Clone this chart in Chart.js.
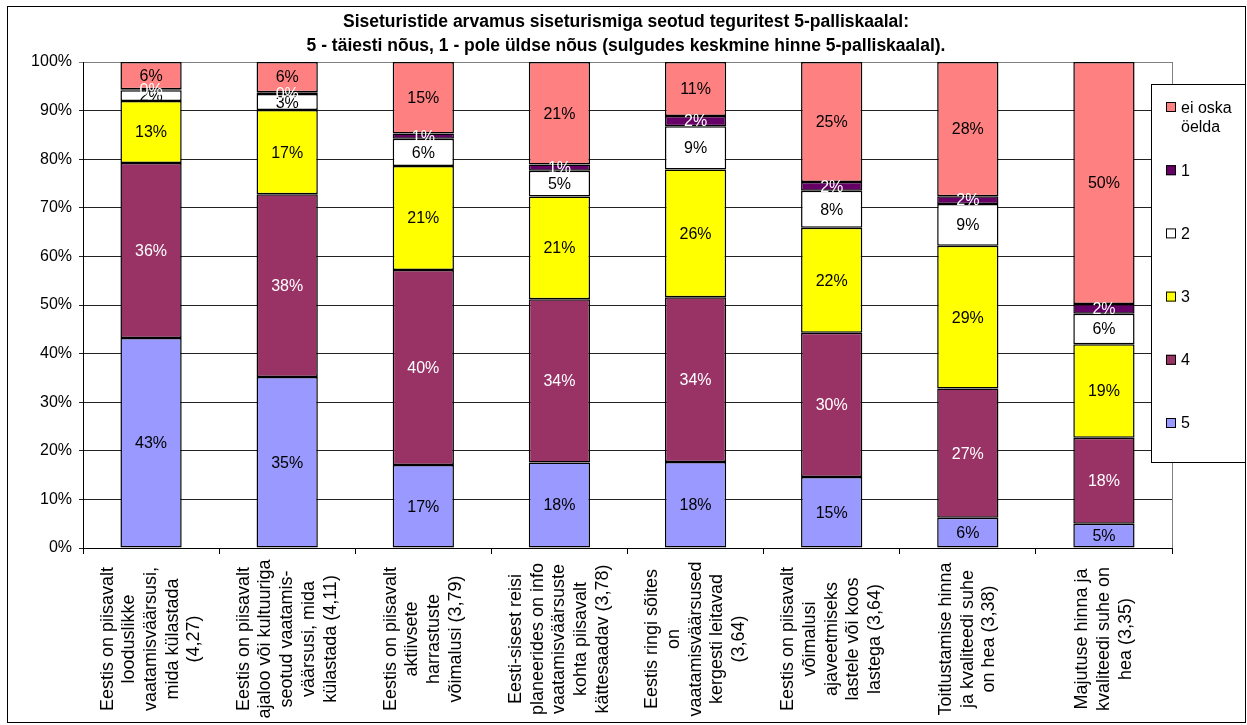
<!DOCTYPE html>
<html>
<head>
<meta charset="utf-8">
<script src="https://cdn.jsdelivr.net/npm/chart.js@4/dist/chart.umd.min.js"></script>
<style>
  html, body { margin: 0; padding: 0; background: #fff; }
  #wrap { width: 1247px; height: 725px; position: relative; }
</style>
</head>
<body>
<div id="wrap"><canvas id="chart"></canvas></div>
<script>
const categories = [
    ['Eestis on piisavalt', 'looduslikke', 'vaatamisväärsusi,', 'mida külastada', '(4,27)'],
    ['Eestis on piisavalt', 'ajaloo või kultuuriga', 'seotud vaatamis-', 'väärsusi, mida', 'külastada (4,11)'],
    ['Eestis on piisavalt', 'aktiivsete', 'harrastuste', 'võimalusi (3,79)'],
    ['Eesti-sisest reisi', 'planeerides on info', 'vaatamisväärsuste', 'kohta piisavalt', 'kättesaadav (3,78)'],
    ['Eestis ringi sõites', 'on', 'vaatamisväärsused', 'kergesti leitavad', '(3,64)'],
    ['Eestis on piisavalt', 'võimalusi', 'ajaveetmiseks', 'lastele või koos', 'lastega (3,64)'],
    ['Toitlustamise hinna', 'ja kvaliteedi suhe', 'on hea (3,38)'],
    ['Majutuse hinna ja', 'kvaliteedi suhe on', 'hea (3,35)']
];

// shares in %, bottom of the stack first
const s5 = [43.2, 35.2, 17.1, 17.6, 17.7, 14.6, 6.2, 5.0];
const s4 = [36.0, 37.6, 40.1, 33.6, 33.9, 29.7, 26.6, 17.7];
const s3 = [12.8, 17.3, 21.4, 21.1, 26.3, 21.6, 29.4, 19.2];
const s2 = [2.2, 3.3, 5.6, 5.3, 8.9, 7.6, 8.6, 6.3];
const s1 = [0.2, 0.4, 1.1, 1.3, 2.1, 1.8, 1.6, 2.0];
const sEi = [5.6, 6.2, 14.7, 21.1, 11.1, 24.7, 27.6, 49.8];

const seriesNames = ['5', '4', '3', '2', '1', 'ei oska öelda'];
const seriesColors = ['#9999FF', '#993366', '#FFFF00', '#FFFFFF', '#660066', '#FF8080'];
const labelColors = ['#000', '#fff', '#000', '#000', '#fff', '#000'];

const titleLines = [
    'Siseturistide arvamus siseturismiga seotud teguritest 5-palliskaalal:',
    '5 - täiesti nõus, 1 - pole üldse nõus (sulgudes keskmine hinne 5-palliskaalal).'
];

const FONT = '"Liberation Sans", Arial, sans-serif';

const frame = {
    id: 'frame',
    beforeDraw(chart) {
        const c = chart.ctx;
        c.save();
        c.fillStyle = '#fff';
        c.fillRect(0, 0, chart.width, chart.height);
        c.strokeStyle = '#000';
        c.lineWidth = 1;
        c.strokeRect(7.5, 6.5, 1238, 716);

        // title, centred on the whole chart
        c.fillStyle = '#000';
        c.font = 'bold 17.5px ' + FONT;
        c.textAlign = 'center';
        c.textBaseline = 'middle';
        titleLines.forEach((t, i) => c.fillText(t, 626, 22 + i * 24));
        c.restore();
    }
};

const barLabels = {
    id: 'barLabels',
    afterDatasetsDraw(chart) {
        const c = chart.ctx;
        c.save();
        c.font = '16px ' + FONT;
        c.textAlign = 'center';
        c.textBaseline = 'middle';
        chart.data.datasets.forEach((ds, di) => {
            chart.getDatasetMeta(di).data.forEach((el, i) => {
                const p = el.getCenterPoint();
                c.fillStyle = labelColors[di];
                c.fillText(Math.round(ds.data[i]) + '%', p.x, p.y + 1);
            });
        });
        c.restore();
    }
};

const extras = {
    id: 'extras',
    afterDraw(chart) {
        const c = chart.ctx;
        const a = chart.chartArea;
        const x = chart.scales.x;
        c.save();

        // plot area right edge
        c.strokeStyle = '#808080';
        c.lineWidth = 1;
        c.beginPath();
        c.moveTo(Math.round(a.right) + 0.5, a.top);
        c.lineTo(Math.round(a.right) + 0.5, a.bottom);
        c.stroke();

        // rotated category labels, lines centred
        c.fillStyle = '#000';
        c.font = '18px ' + FONT;
        c.textAlign = 'center';
        c.textBaseline = 'middle';
        categories.forEach((lines, i) => {
            const cx = x.getPixelForValue(i);
            lines.forEach((t, j) => {
                const lx = cx + (j - (lines.length - 1) / 2) * 21.7;
                c.save();
                c.translate(lx, 639);
                c.rotate(-Math.PI / 2);
                c.fillText(t, 0, 0);
                c.restore();
            });
        });

        // legend box overlapping the plot
        c.fillStyle = '#fff';
        c.fillRect(1151, 84, 95, 379);
        c.strokeStyle = '#000';
        c.strokeRect(1151.5, 84.5, 94, 378);
        c.font = '16px ' + FONT;
        c.textAlign = 'left';
        const order = [5, 4, 3, 2, 1, 0];
        order.forEach((di, k) => {
            const cy = 107 + k * 63.2;
            c.fillStyle = seriesColors[di];
            c.fillRect(1166, cy - 5, 10, 10);
            c.strokeStyle = '#000';
            c.strokeRect(1166.5, cy - 4.5, 9, 9);
            c.fillStyle = '#000';
            if (di === 5) {
                c.fillText('ei oska', 1181, cy + 2);
                c.fillText('öelda', 1181, cy + 21);
            } else {
                c.fillText(seriesNames[di], 1181, cy + 1);
            }
        });
        c.restore();
    }
};

const values = [s5, s4, s3, s2, s1, sEi];

new Chart(document.getElementById('chart'), {
    type: 'bar',
    data: {
        labels: categories.map(l => l.join(' ')),
        datasets: values.map((d, i) => ({
            label: seriesNames[i],
            data: d,
            backgroundColor: seriesColors[i],
            borderColor: '#000',
            borderWidth: 1.5,
            borderSkipped: false,
            barPercentage: 0.45,
            categoryPercentage: 1
        }))
    },
    options: {
        responsive: true,
        maintainAspectRatio: false,
        animation: false,
        layout: { padding: { top: 62, right: 75, left: 0, bottom: 0 } },
        plugins: {
            legend: { display: false },
            tooltip: { enabled: false },
            title: { display: false }
        },
        scales: {
            x: {
                stacked: true,
                grid: { display: true, drawOnChartArea: false, color: '#000', tickLength: 6, offset: true },
                border: { color: '#000', width: 1 },
                ticks: { display: false },
                afterFit(s) { s.height = 177; }
            },
            y: {
                stacked: true,
                min: 0,
                max: 100,
                ticks: {
                    stepSize: 10,
                    color: '#000',
                    padding: 7,
                    font: { family: FONT, size: 16 },
                    callback: v => v + '%'
                },
                grid: {
                    color: ctx => (ctx.tick && ctx.tick.value === 100 ? '#808080' : '#222'),
                    tickLength: 4
                },
                border: { color: '#000', width: 1 },
                afterFit(s) { s.width = 83; }
            }
        }
    },
    plugins: [frame, barLabels, extras]
});
</script>
</body>
</html>
